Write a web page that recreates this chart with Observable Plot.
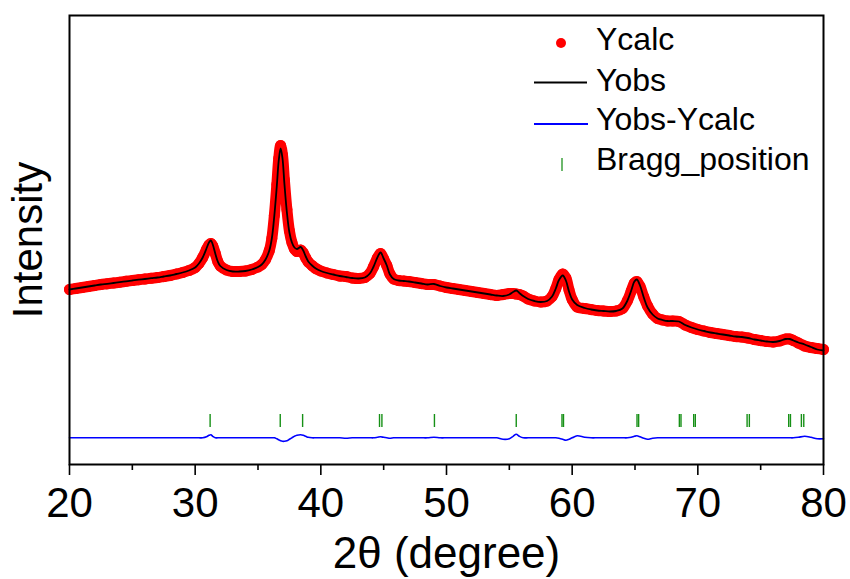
<!DOCTYPE html>
<html><head><meta charset="utf-8">
<script src="https://cdn.jsdelivr.net/npm/d3@7"></script>
<script src="https://cdn.jsdelivr.net/npm/@observablehq/plot@0.6"></script>
<style>body{margin:0;background:#fff} #chart{width:850px;height:579px}</style>
</head><body><div id="chart"></div>
<script>
// 2θ grid (degrees)
const twoTheta = [
  20,20.5,21,21.5,22,22.5,23,23.5,24,24.5,
  25,25.5,26,26.5,27,27.5,28,28.5,29,29.5,
  30,30.3,30.6,30.9,31.1,31.25,31.4,31.6,31.8,32,
  32.5,33,33.5,34,34.5,35,35.3,35.6,35.9,36.1,
  36.3,36.5,36.65,36.8,36.95,37.1,37.3,37.5,37.7,37.9,
  38.1,38.4,38.6,38.8,39,39.3,39.6,40,40.5,41,
  41.5,42,42.5,43,43.5,43.9,44.2,44.5,44.75,45,
  45.25,45.5,45.8,46.2,46.6,47,47.5,48,48.5,49,
  49.5,50,50.5,51,51.5,52,52.5,53,53.5,54,
  54.5,55,55.3,55.55,55.8,56.1,56.5,57,57.5,58,
  58.4,58.7,58.95,59.25,59.5,59.75,60,60.4,61,61.5,
  62,62.5,63,63.5,64,64.4,64.7,64.95,65.15,65.4,
  65.7,66,66.4,66.8,67.2,67.6,68,68.5,69,69.5,
  70,70.5,71,71.5,72,72.5,73,73.5,74,74.5,
  75,75.5,76,76.5,77,77.3,77.6,78,78.5,79,
  79.5,80
];
// observed intensity (a.u.)
const yobs = [
  1750,1760,1770,1780,1790,1800,1807,1815,1823,1832,
  1840,1848,1855,1863,1870,1880,1890,1905,1920,1940,
  1970,2010,2070,2160,2220,2240,2200,2110,2030,1985,
  1945,1930,1930,1935,1950,1975,2000,2050,2140,2260,
  2490,2790,3040,3160,3060,2810,2520,2320,2220,2170,
  2155,2175,2140,2080,2030,1990,1960,1935,1915,1900,
  1885,1875,1865,1860,1870,1910,1980,2070,2120,2060,
  1990,1900,1855,1840,1835,1830,1820,1810,1800,1805,
  1785,1770,1760,1750,1740,1730,1720,1710,1700,1690,
  1685,1700,1725,1740,1715,1685,1655,1635,1625,1635,
  1680,1760,1845,1890,1840,1730,1650,1595,1565,1550,
  1540,1535,1530,1535,1560,1640,1740,1830,1850,1790,
  1670,1570,1500,1460,1445,1435,1435,1430,1395,1370,
  1350,1335,1320,1310,1300,1290,1280,1275,1265,1250,
  1240,1230,1225,1235,1255,1255,1240,1220,1200,1175,
  1150,1140
];
// difference Yobs - Ycalc (a.u.)
const diff = [
  0,0,0,0,0,0,0,0,0,0,
  0,0,0,0,0,0,0,0,0,0,
  0,0,0,10,25,30,15,0,0,0,
  0,0,0,0,0,0,0,0,0,0,
  0,-10,-20,-30,-35,-35,-30,-15,0,15,
  25,30,25,15,5,0,0,0,0,0,
  0,-5,0,0,0,0,0,5,10,5,
  0,-5,0,0,0,0,0,0,0,5,
  0,0,0,0,0,0,0,0,0,0,
  -15,-10,15,35,15,0,0,0,0,0,
  0,0,-5,-15,-25,-15,0,20,5,0,
  0,0,0,0,0,0,5,15,20,10,
  -5,-15,-5,0,0,0,0,0,0,0,
  0,0,0,0,0,0,0,0,0,0,
  0,0,0,0,0,0,0,5,15,5,
  -10,-10
];
// Bragg reflection positions (2θ)
const braggPositions = [31.19,36.77,38.55,44.67,44.86,49.04,55.55,59.19,59.31,65.16,65.29,68.53,68.66,69.67,69.8,73.92,74.1,77.23,77.37,78.24,78.43];
const xTicks = [20,30,40,50,60,70,80];
const xMinorTicks = [25,35,45,55,65,75];
const legendLabels = ["Ycalc","Yobs","Yobs-Ycalc","Bragg_position"];
const xLabel = "2θ (degree)";
const yLabel = "Intensity";

const FONT = '"Liberation Sans", Arial, Helvetica, sans-serif';
const DIFF_OFFSET = 267;
const BRAGG_Y1 = 370, BRAGG_Y2 = 500;

const obs = twoTheta.map((x, i) => ({x, y: yobs[i]}));
const calc = twoTheta.map((x, i) => ({x, y: yobs[i] - diff[i]}));
const dif = twoTheta.map((x, i) => ({x, y: diff[i] + DIFF_OFFSET}));

const plot = Plot.plot({
  width: 850, height: 579,
  marginLeft: 69, marginRight: 27, marginTop: 15, marginBottom: 115,
  style: {fontFamily: FONT, background: "#fff", overflow: "visible", color: "#000"},
  x: {domain: [20, 80]},
  y: {domain: [0, 4490], axis: null},
  marks: [
    Plot.axisX({ticks: xMinorTicks, tickSize: 6, text: null, label: null, strokeWidth: 1.6}),
    Plot.axisX({ticks: xTicks, tickSize: 11, tickPadding: 12, fontSize: 42, label: null, strokeWidth: 1.6, tickFormat: d => String(d)}),
    Plot.ruleX(braggPositions, {x: d => d, y1: BRAGG_Y1, y2: BRAGG_Y2, stroke: "#169016", strokeWidth: 1.4}),
    Plot.line(dif, {x: "x", y: "y", stroke: "#0000ff", strokeWidth: 1.6, curve: "catmull-rom"}),
    // Ycalc: dense red dots rendered as a band plus the dots themselves
    Plot.line(calc, {x: "x", y: "y", stroke: "#ff0000", strokeWidth: 11, curve: "catmull-rom", strokeLinejoin: "round", strokeLinecap: "round"}),
    Plot.dot(calc, {x: "x", y: "y", r: 5.5, fill: "#ff0000"}),
    Plot.line(obs, {x: "x", y: "y", stroke: "#000", strokeWidth: 1.8, curve: "catmull-rom"}),
    Plot.frame({stroke: "#000", strokeWidth: 2}),
    Plot.text([xLabel], {text: d => d, frameAnchor: "bottom", dy: 89, textAnchor: "middle", lineAnchor: "middle", fontSize: 44, fill: "#000"}),
    Plot.text([yLabel], {text: d => d, frameAnchor: "left", dx: -41, rotate: -90, textAnchor: "middle", lineAnchor: "middle", fontSize: 42, fill: "#000"})
  ]
});
document.getElementById("chart").appendChild(plot);

// legend (inside the frame, top right)
const svg = d3.select(plot);
const lg = svg.append("g").attr("font-family", FONT).attr("font-size", 32).attr("fill", "#000").attr("text-anchor", "start");
lg.append("circle").attr("cx", 561).attr("cy", 43).attr("r", 5).attr("fill", "#ff0000");
lg.append("line").attr("x1", 534).attr("x2", 587).attr("y1", 82.5).attr("y2", 82.5).attr("stroke", "#000").attr("stroke-width", 2);
lg.append("line").attr("x1", 534).attr("x2", 588).attr("y1", 124).attr("y2", 124).attr("stroke", "#0000ff").attr("stroke-width", 2);
lg.append("line").attr("x1", 562).attr("x2", 562).attr("y1", 158).attr("y2", 171).attr("stroke", "#2e9a2e").attr("stroke-width", 1.4);
const baselines = [50, 90.5, 130, 170];
legendLabels.forEach((t, i) => lg.append("text").attr("x", 596).attr("y", baselines[i]).attr("text-anchor", "start").text(t));
</script>
</body></html>
